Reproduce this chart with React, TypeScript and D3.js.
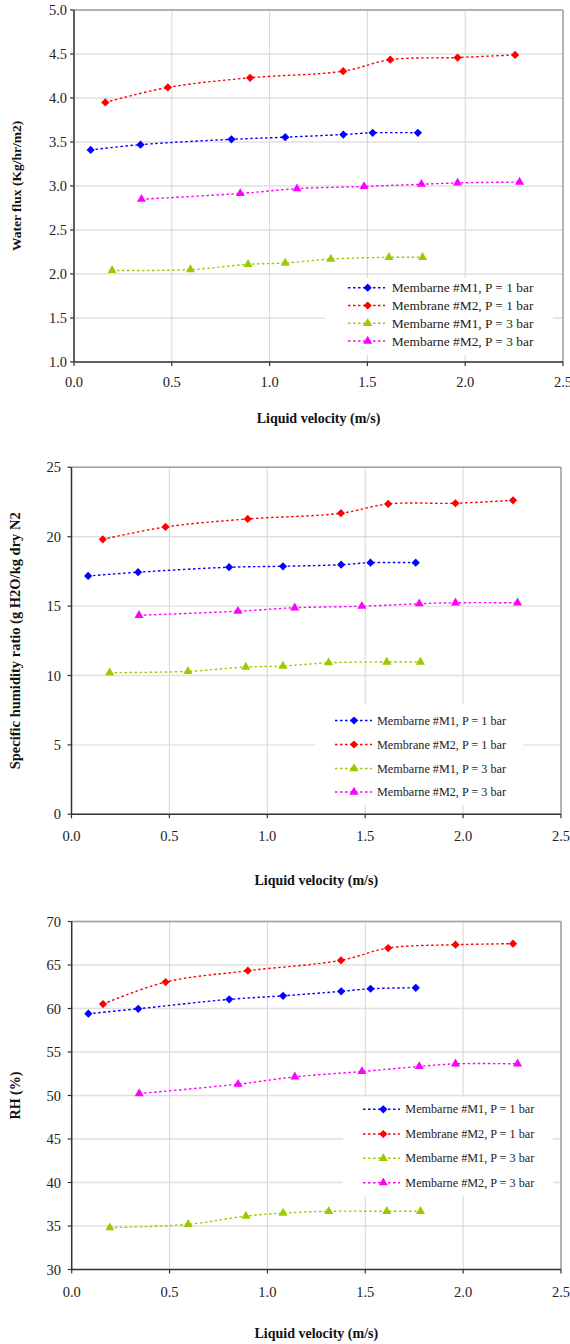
import React from "react";
import * as d3 from "d3";

// Liquid velocity (m/s) for each membrane / pressure run
const velM1P1 = [0.085, 0.34, 0.805, 1.08, 1.377, 1.527, 1.758];
const velM2P1 = [0.16, 0.48, 0.9, 1.376, 1.617, 1.961, 2.255];
const velM1P3 = [0.195, 0.595, 0.89, 1.08, 1.313, 1.61, 1.782];
const velM2P3 = [0.345, 0.85, 1.14, 1.483, 1.776, 1.961, 2.278];

// Water flux (Kg/hr/m2)
const fluxM1P1 = [3.41, 3.47, 3.53, 3.555, 3.585, 3.605, 3.605];
const fluxM2P1 = [3.95, 4.12, 4.23, 4.305, 4.435, 4.46, 4.49];
const fluxM1P3 = [2.04, 2.05, 2.11, 2.125, 2.17, 2.19, 2.19];
const fluxM2P3 = [2.85, 2.915, 2.97, 2.995, 3.02, 3.035, 3.045];

// Specific humidity ratio (g H2O/kg dry N2)
const humM1P1 = [17.17, 17.44, 17.8, 17.87, 17.98, 18.13, 18.13];
const humM2P1 = [19.81, 20.7, 21.28, 21.69, 22.36, 22.41, 22.62];
const humM1P3 = [10.2, 10.3, 10.61, 10.68, 10.92, 10.97, 10.97];
const humM2P3 = [14.34, 14.63, 14.88, 14.99, 15.17, 15.24, 15.24];

// Relative humidity (%)
const rhM1P1 = [59.4, 59.97, 61.05, 61.46, 61.97, 62.27, 62.38];
const rhM2P1 = [60.51, 63.04, 64.34, 65.54, 66.95, 67.33, 67.45];
const rhM1P3 = [34.81, 35.19, 36.14, 36.49, 36.69, 36.69, 36.69];
const rhM2P3 = [50.23, 51.3, 52.14, 52.76, 53.34, 53.64, 53.64];

const seriesLabels = [
  "Membarne #M1, P = 1 bar",
  "Membrane #M2, P = 1 bar",
  "Membarne #M1, P = 3 bar",
  "Membarne #M2, P = 3 bar",
];
const seriesColors = ["#0000FF", "#FF0000", "#99CC00", "#FF00FF"];
const seriesShapes = ["diamond", "diamond", "triangle", "triangle"];
const velocities = [velM1P1, velM2P1, velM1P3, velM2P3];

const xTicks = [0, 0.5, 1, 1.5, 2, 2.5];
const fluxTicks = [1, 1.5, 2, 2.5, 3, 3.5, 4, 4.5, 5];
const humTicks = [0, 5, 10, 15, 20, 25];
const rhTicks = [30, 35, 40, 45, 50, 55, 60, 65, 70];

const FONT = "'Liberation Serif', 'Times New Roman', serif";

const diamondPath = d3.symbol().type(d3.symbolSquare).size(34)() as string;
const trianglePath = d3.symbol().type(d3.symbolTriangle).size(36)() as string;

function Marker({ shape, color, cx, cy }: { shape: string; color: string; cx: number; cy: number }) {
  if (shape === "diamond") {
    return <path d={diamondPath} fill={color} transform={`translate(${cx},${cy}) rotate(45)`} />;
  }
  return <path d={trianglePath} fill={color} transform={`translate(${cx},${cy})`} />;
}

type ChartProps = {
  left: number;
  right: number;
  top: number;
  bottom: number;
  yDomain: [number, number];
  yTicks: number[];
  yFormat: (v: number) => string;
  values: number[][];
  yTitle: string;
  yTitleX: number;
  yTitleSize: number;
  xTitleY: number;
  tickLabelRight: number;
  xLabelOffset: number;
  legend: {
    x0: number;
    x1: number;
    y0: number;
    y1: number;
    rows: number[];
    lineX0: number;
    lineX1: number;
    markerX: number;
    textX: number;
    fontSize: number;
  };
};

function Chart(p: ChartProps) {
  const x = d3.scaleLinear().domain([0, 2.5]).range([p.left, p.right]);
  const y = d3.scaleLinear().domain(p.yDomain).range([p.bottom, p.top]);
  const line = d3
    .line<[number, number]>()
    .x((d) => x(d[0]))
    .y((d) => y(d[1]))
    .curve(d3.curveCatmullRom.alpha(0.5));

  const xFmt = d3.format(".1f");
  const lg = p.legend;

  return (
    <g>
      {/* grid */}
      {p.yTicks.map((t) => (
        <line key={"gy" + t} x1={p.left} x2={p.right} y1={y(t)} y2={y(t)} stroke="#e0e0e0" strokeWidth={1.4} />
      ))}
      {xTicks.map((t) => (
        <line key={"gx" + t} x1={x(t)} x2={x(t)} y1={p.top} y2={p.bottom} stroke="#dadada" strokeWidth={1.1} />
      ))}
      {/* frame */}
      <line x1={p.left} x2={p.right} y1={p.top} y2={p.top} stroke="#a0a0a0" strokeWidth={1.5} />
      <line x1={p.right} x2={p.right} y1={p.top} y2={p.bottom} stroke="#a0a0a0" strokeWidth={1.5} />

      {/* series */}
      {p.values.map((vals, i) => {
        const pts: [number, number][] = vals.map((v, j) => [velocities[i][j], v]);
        return (
          <g key={"s" + i}>
            <path d={line(pts) as string} fill="none" stroke={seriesColors[i]} strokeWidth={1.4} strokeDasharray="2.5,2.5" />
            {pts.map((d, j) => (
              <Marker key={j} shape={seriesShapes[i]} color={seriesColors[i]} cx={x(d[0])} cy={y(d[1])} />
            ))}
          </g>
        );
      })}

      {/* legend */}
      <rect x={lg.x0} y={lg.y0} width={lg.x1 - lg.x0} height={lg.y1 - lg.y0} fill="#ffffff" />
      {seriesLabels.map((lab, i) => (
        <g key={"lg" + i}>
          <line
            x1={lg.lineX0}
            x2={lg.lineX1}
            y1={lg.rows[i]}
            y2={lg.rows[i]}
            stroke={seriesColors[i]}
            strokeWidth={1.4}
            strokeDasharray="2.5,2.5"
          />
          <Marker shape={seriesShapes[i]} color={seriesColors[i]} cx={lg.markerX} cy={lg.rows[i]} />
          <text
            x={lg.textX}
            y={lg.rows[i]}
            dominantBaseline="central"
            fontFamily={FONT}
            fontSize={lg.fontSize}
            fill="#222"
          >
            {lab}
          </text>
        </g>
      ))}

      {/* axes */}
      <line x1={p.left} x2={p.left} y1={p.top} y2={p.bottom} stroke="#333" strokeWidth={1.5} />
      <line x1={p.left} x2={p.right} y1={p.bottom} y2={p.bottom} stroke="#333" strokeWidth={1.5} />
      {p.yTicks.map((t) => (
        <g key={"ty" + t}>
          <line x1={p.left - 4} x2={p.left} y1={y(t)} y2={y(t)} stroke="#333" strokeWidth={1.2} />
          <text
            x={p.tickLabelRight}
            y={y(t)}
            textAnchor="end"
            dominantBaseline="central"
            fontFamily={FONT}
            fontSize={14.5}
            fill="#222"
          >
            {p.yFormat(t)}
          </text>
        </g>
      ))}
      {xTicks.map((t) => (
        <g key={"tx" + t}>
          <line x1={x(t)} x2={x(t)} y1={p.bottom} y2={p.bottom + 4} stroke="#333" strokeWidth={1.2} />
          <text
            x={x(t)}
            y={p.bottom + p.xLabelOffset}
            textAnchor="middle"
            dominantBaseline="central"
            fontFamily={FONT}
            fontSize={14.5}
            fill="#222"
          >
            {xFmt(t)}
          </text>
        </g>
      ))}

      {/* titles */}
      <text
        x={(p.left + p.right) / 2}
        y={p.xTitleY}
        textAnchor="middle"
        dominantBaseline="central"
        fontFamily={FONT}
        fontWeight="bold"
        fontSize={14}
        fill="#111"
      >
        Liquid velocity (m/s)
      </text>
      <text
        transform={`translate(${p.yTitleX},${(p.top + p.bottom) / 2}) rotate(-90)`}
        textAnchor="middle"
        dominantBaseline="central"
        fontFamily={FONT}
        fontWeight="bold"
        fontSize={p.yTitleSize}
        fill="#111"
      >
        {p.yTitle}
      </text>
    </g>
  );
}

export default function App() {
  const f1 = d3.format(".1f");
  const f0 = d3.format("d");
  return (
    <svg
      width={570}
      height={1344}
      style={{ position: "absolute", left: 0, top: 0, background: "#fff" }}
      xmlns="http://www.w3.org/2000/svg"
    >
      <rect width={570} height={1344} fill="#fff" />
      <Chart
        left={74}
        right={563}
        top={10}
        bottom={362}
        yDomain={[1, 5]}
        yTicks={fluxTicks}
        yFormat={f1}
        values={[fluxM1P1, fluxM2P1, fluxM1P3, fluxM2P3]}
        yTitle="Water flux (Kg/hr/m2)"
        yTitleX={16.5}
        yTitleSize={13.5}
        xTitleY={418}
        tickLabelRight={67}
        xLabelOffset={20}
        legend={{
          x0: 325,
          x1: 553,
          y0: 278,
          y1: 355,
          rows: [287.7, 305.5, 323.3, 341],
          lineX0: 348,
          lineX1: 385,
          markerX: 367.7,
          textX: 391.7,
          fontSize: 13.4,
        }}
      />
      <Chart
        left={71.5}
        right={561}
        top={467.3}
        bottom={814.3}
        yDomain={[0, 25]}
        yTicks={humTicks}
        yFormat={f0}
        values={[humM1P1, humM2P1, humM1P3, humM2P3]}
        yTitle="Specific humidity ratio (g H2O/kg dry N2"
        yTitleX={15}
        yTitleSize={14.5}
        xTitleY={880}
        tickLabelRight={61}
        xLabelOffset={22}
        legend={{
          x0: 315,
          x1: 523,
          y0: 704,
          y1: 805,
          rows: [720.5, 744.5, 768.5, 792],
          lineX0: 335,
          lineX1: 372,
          markerX: 354,
          textX: 377,
          fontSize: 12.2,
        }}
      />
      <Chart
        left={71.7}
        right={561}
        top={921.5}
        bottom={1269.5}
        yDomain={[30, 70]}
        yTicks={rhTicks}
        yFormat={f0}
        values={[rhM1P1, rhM2P1, rhM1P3, rhM2P3]}
        yTitle="RH (%)"
        yTitleX={15.7}
        yTitleSize={14}
        xTitleY={1333}
        tickLabelRight={61}
        xLabelOffset={22.5}
        legend={{
          x0: 343,
          x1: 553,
          y0: 1097,
          y1: 1196,
          rows: [1109.3, 1134, 1158.3, 1182.7],
          lineX0: 363,
          lineX1: 400,
          markerX: 383.3,
          textX: 405.3,
          fontSize: 12.2,
        }}
      />
    </svg>
  );
}
